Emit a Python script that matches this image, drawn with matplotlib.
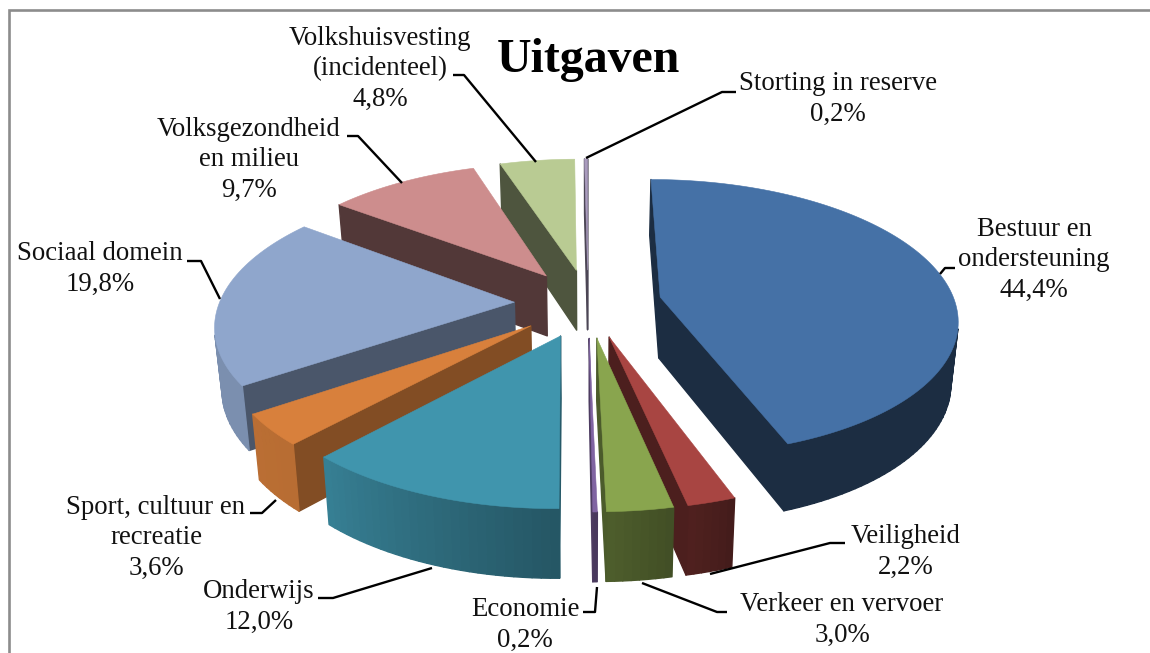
import numpy as np
from matplotlib import pyplot as plt
from matplotlib.patches import Polygon
from matplotlib.colors import to_rgb

# clockwise from 12 o'clock
categories = ["Bestuur en\nondersteuning", "Veiligheid", "Verkeer en vervoer", "Economie", "Onderwijs",
              "Sport, cultuur en\nrecreatie", "Sociaal domein", "Volksgezondheid\nen milieu",
              "Volkshuisvesting\n(incidenteel)", "Storting in reserve"]
values = [44.4, 2.2, 3.0, 0.2, 12.0, 3.6, 19.8, 9.7, 4.8, 0.2]
value_labels = ["44,4%", "2,2%", "3,0%", "0,2%", "12,0%", "3,6%", "19,8%", "9,7%", "4,8%", "0,2%"]
colors = ["#4571a6", "#a84542", "#89a54e", "#8064a2", "#4095ad", "#d8803c", "#8fa6cc", "#cd8d8d", "#b9cb93", "#a99bbd"]
wall_shade = [0.40, 0.45, 0.55, 0.60, 0.60, 0.60, 0.52, 0.40, 0.42, 0.45]

# label centre and leader line, in pixels of the picture
label_pos = [(1034, 260), (906, 552), (842, 620), (525, 625), (259, 607),
             (156, 538), (100, 269), (249, 160), (380, 69), (838, 99)]
leaders = [[(955, 268), (945, 268), (940, 274)],
           [(845, 543), (830, 543), (710, 574)],
           [(727, 612), (717, 612), (642, 583)],
           [(583, 612), (595, 612), (597, 587)],
           [(318, 598), (333, 598), (432, 568)],
           [(250, 513), (262, 513), (276, 500)],
           [(187, 261), (201, 261), (220, 299)],
           [(347, 136), (358, 136), (402, 183)],
           [(453, 75), (464, 75), (536, 162)],
           [(736, 92), (722, 92), (586, 158)]]

# pie projection
cx, cy = 588, 303
R, S, k = 295, 136.5, 0.147
explode = 0.25

# shading of the rim against the angle
rim_ang = [0, 160, 165, 180, 222, 235, 270, 360]
rim_shade = [0.40, 0.40, 0.45, 0.58, 0.85, 0.86, 0.86, 0.50]


def shade(col, f):
    return tuple(c * f for c in to_rgb(col))


def project(u, v):
    w = 1 + k * v
    x = cx + R * u / w
    y = cy - S * v / w
    # bottom plane: verticals lean slightly inwards and grow towards the viewer
    xb = cx + (x - cx) * 0.98
    yb = y + 22 + 39 / w
    return (x, y), (xb, yb)


fig = plt.figure(figsize=(11.5, 6.53), dpi=100)
ax = fig.add_axes([0, 0, 1, 1])
ax.set_xlim(0, 1150)
ax.set_ylim(653, 0)
ax.axis('off')

# frame, only top and left are in the crop
ax.plot([9, 9, 1150], [653, 10, 10], color='#8c8c8c', lw=1.9, solid_joinstyle='miter', zorder=1)

total = sum(values)
edges = np.concatenate([[0], np.cumsum(values)]) / total * 360

# painter order: left half from the back to the front, then the right side
draw_order = [9, 8, 7, 6, 5, 4, 0, 1, 2, 3]
z = 2
for i in draw_order:
    a0, a1 = edges[i], edges[i + 1]
    mid = np.radians((a0 + a1) / 2)
    ou, ov = explode * np.sin(mid), explode * np.cos(mid)
    n = max(2, int((a1 - a0) / 1.5) + 2)
    ang = np.linspace(a0, a1, n)

    pts = [(ou, ov)] + [(ou + np.sin(np.radians(a)), ov + np.cos(np.radians(a))) for a in ang]
    top = [project(u, v)[0] for u, v in pts]
    bot = [project(u, v)[1] for u, v in pts]
    m = len(pts)

    # keep only the sides turned to the viewer
    for j in range(m):
        j2 = (j + 1) % m
        quad = [top[j], top[j2], bot[j2], bot[j]]
        area = 0.0
        for q in range(4):
            p1, p2 = quad[q], quad[(q + 1) % 4]
            area += p1[0] * p2[1] - p2[0] * p1[1]
        if area >= 0:
            continue
        if j == 0 or j2 == 0:
            col = shade(colors[i], wall_shade[i])
        else:
            f = np.interp((ang[j - 1] + ang[j]) / 2, rim_ang, rim_shade)
            col = shade(colors[i], f)
        ax.add_patch(Polygon(quad, closed=True, facecolor=col, edgecolor=col, lw=1.0, joinstyle='round', zorder=z))
    z += 1
    ax.add_patch(Polygon(top, closed=True, facecolor=colors[i], edgecolor=colors[i], lw=0.4, zorder=z))
    z += 1

for i in range(len(values)):
    xs = [p[0] for p in leaders[i]]
    ys = [p[1] for p in leaders[i]]
    ax.plot(xs, ys, color='black', lw=1.7, zorder=60, solid_capstyle='butt')
    ax.text(label_pos[i][0], label_pos[i][1], categories[i] + "\n" + value_labels[i], ha='center', va='center',
            family='Liberation Serif', fontsize=19.3, color='#111111', linespacing=1.27, zorder=61)

ax.text(588, 60, "Uitgaven", ha='center', va='center', family='Liberation Serif', fontsize=34.5,
        fontweight='bold', color='black', zorder=61)

fig.savefig('out.png', dpi=100)
